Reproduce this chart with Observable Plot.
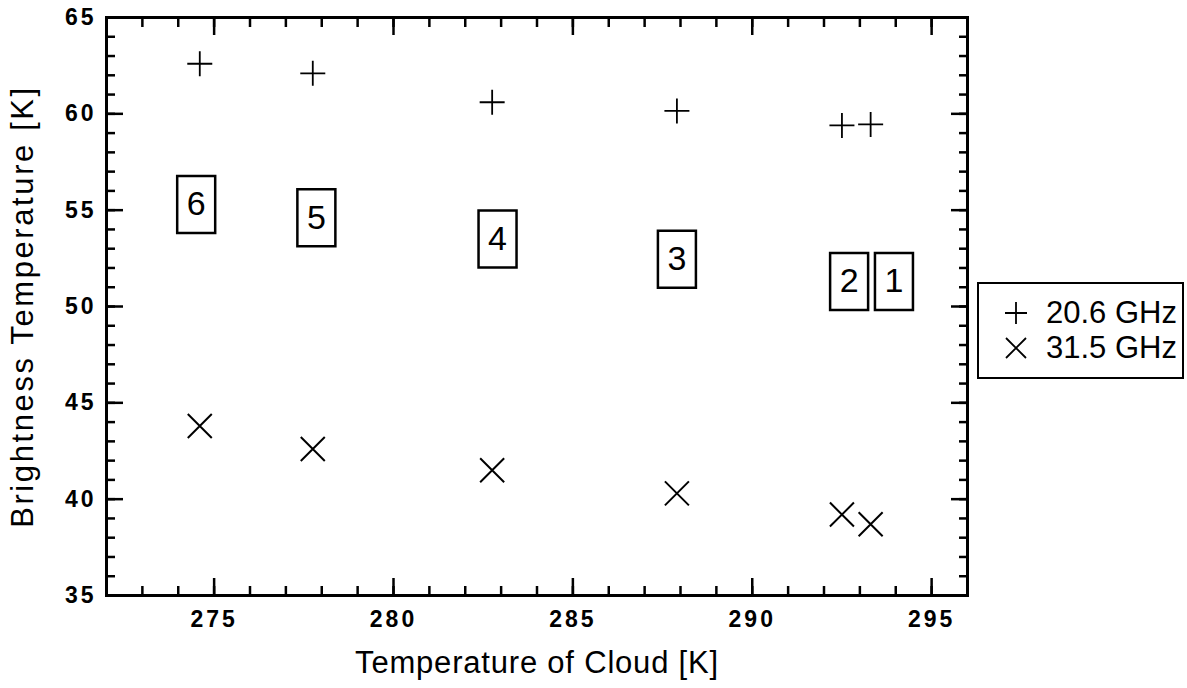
<!DOCTYPE html>
<html><head><meta charset="utf-8">
<script src="https://cdn.jsdelivr.net/npm/d3@7"></script>
<script src="https://cdn.jsdelivr.net/npm/@observablehq/plot@0.6"></script>
<style>
body{margin:0;background:#fff;}
#wrap{position:relative;width:1187px;height:688px;overflow:hidden;}
#legend{position:absolute;left:977px;top:282px;width:203px;height:93px;border:2px solid #000;font-family:"Liberation Sans",Arial,sans-serif;font-size:31px;color:#000;}
#legend .row{position:absolute;left:0;height:35px;display:flex;align-items:center;white-space:nowrap;}
#legend svg{margin-left:25px;margin-right:18px;}
g[aria-label="x-axis tick label"] text, g[aria-label="y-axis tick label"] text{letter-spacing:3px;}
g[aria-label="x-axis label"] text{letter-spacing:0.8px;}
g[aria-label="y-axis label"] text{letter-spacing:2.6px;}
</style></head><body><div id="wrap"></div>
<script>
// data
const cloudTemp = [274.6, 277.75, 282.75, 287.9, 292.5, 293.3];
const tb206 = [62.6, 62.1, 60.6, 60.15, 59.4, 59.45];
const tb315 = [43.8, 42.6, 41.5, 40.3, 39.2, 38.7];
const caseLabels = ["6", "5", "4", "3", "2", "1"];
const labelX = [274.5, 277.85, 282.9, 287.9, 292.7, 293.95];
const labelY = [55.3, 54.6, 53.5, 52.45, 51.3, 51.3];
const xTicks = [275, 280, 285, 290, 295];
const yTicks = [35, 40, 45, 50, 55, 60, 65];
const xMinorTicks = d3.range(272, 297, 1);
const yMinorTicks = d3.range(35, 66, 1);
const seriesNames = ["20.6 GHz", "31.5 GHz"];

const font = "Liberation Sans, Arial, sans-serif";
const plusSym = {draw(ctx) { const r = 12.5; ctx.moveTo(-r, 0); ctx.lineTo(r, 0); ctx.moveTo(0, -r); ctx.lineTo(0, r); }};
const timesSym = {draw(ctx) { const r = 12; ctx.moveTo(-r, -r); ctx.lineTo(r, r); ctx.moveTo(-r, r); ctx.lineTo(r, -r); }};
const boxSym = {draw(ctx) { ctx.rect(-19, -28.5, 38, 57); }};

const pts206 = cloudTemp.map((t, i) => ({t, tb: tb206[i]}));
const pts315 = cloudTemp.map((t, i) => ({t, tb: tb315[i]}));
const labels = caseLabels.map((c, i) => ({c, x: labelX[i], y: labelY[i]}));

// tick-only axes: fill none suppresses tick text and label
const tickStyle = {fill: "none", label: null, stroke: "black", strokeWidth: 2.5};

const chart = Plot.plot({
  width: 1187,
  height: 688,
  marginLeft: 106,
  marginRight: 220,
  marginTop: 17,
  marginBottom: 93,
  style: {fontFamily: font, background: "white", color: "black"},
  x: {domain: [272, 296]},
  y: {domain: [35, 65]},
  marks: [
    // tick labels
    Plot.axisX({ticks: xTicks, tickSize: 0, tickPadding: 15, fontSize: 23, fontWeight: "bold", label: null, fontFamily: font}),
    Plot.axisY({ticks: yTicks, tickSize: 0, tickPadding: 10, fontSize: 23, fontWeight: "bold", label: null, fontFamily: font}),
    // axis titles
    Plot.axisX({ticks: [], tickSize: 0, label: "Temperature of Cloud [K]", labelAnchor: "center", labelArrow: "none", labelOffset: 77, fontSize: 31, fontFamily: font}),
    Plot.axisY({ticks: [], tickSize: 0, label: "Brightness Temperature [K]", labelAnchor: "center", labelArrow: "none", labelOffset: 96, fontSize: 31, fontFamily: font}),
    // inward ticks on all four sides
    Plot.axisX({anchor: "bottom", ticks: xTicks, tickSize: -17, ...tickStyle}),
    Plot.axisX({anchor: "bottom", ticks: xMinorTicks, tickSize: -9, ...tickStyle}),
    Plot.axisX({anchor: "top", ticks: xTicks, tickSize: -17, ...tickStyle}),
    Plot.axisX({anchor: "top", ticks: xMinorTicks, tickSize: -9, ...tickStyle}),
    Plot.axisY({anchor: "left", ticks: yTicks, tickSize: -17, ...tickStyle}),
    Plot.axisY({anchor: "left", ticks: yMinorTicks, tickSize: -9, ...tickStyle}),
    Plot.axisY({anchor: "right", ticks: yTicks, tickSize: -17, ...tickStyle}),
    Plot.axisY({anchor: "right", ticks: yMinorTicks, tickSize: -9, ...tickStyle}),
    Plot.frame({stroke: "black", strokeWidth: 3}),
    // data
    Plot.dot(pts206, {x: "t", y: "tb", symbol: plusSym, r: 5, fill: "none", stroke: "black", strokeWidth: 1.8}),
    Plot.dot(pts315, {x: "t", y: "tb", symbol: timesSym, r: 5, fill: "none", stroke: "black", strokeWidth: 2}),
    // case number boxes
    Plot.dot(labels, {x: "x", y: "y", symbol: boxSym, r: 5, fill: "white", stroke: "black", strokeWidth: 2.5}),
    Plot.text(labels, {x: "x", y: "y", text: "c", fontSize: 34, fontFamily: font, fill: "black"})
  ]
});

const wrap = document.getElementById("wrap");
wrap.appendChild(chart);

// legend
const legend = document.createElement("div");
legend.id = "legend";
const icons = [
  '<svg width="24" height="24" viewBox="-12 -12 24 24"><path d="M-11,0L11,0M0,-11L0,11" stroke="black" stroke-width="1.8" fill="none"/></svg>',
  '<svg width="24" height="24" viewBox="-12 -12 24 24"><path d="M-10,-10L10,10M-10,10L10,-10" stroke="black" stroke-width="1.8" fill="none"/></svg>'
];
seriesNames.forEach((name, i) => {
  const row = document.createElement("div");
  row.className = "row";
  row.style.top = (11 + i * 35) + "px";
  row.innerHTML = icons[i] + "<span>" + name + "</span>";
  legend.appendChild(row);
});
wrap.appendChild(legend);
</script>
</body></html>
